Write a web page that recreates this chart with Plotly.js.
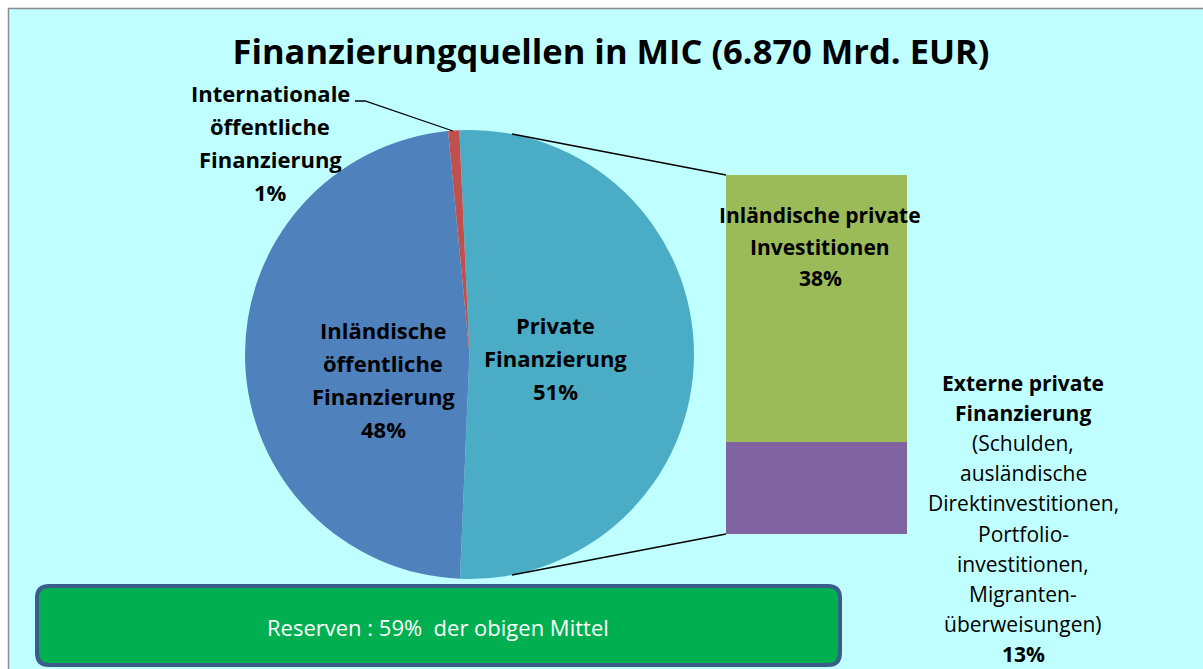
<!DOCTYPE html>
<html>
<head>
<meta charset="utf-8">
<script src="https://cdn.plot.ly/plotly-3.0.1.min.js"></script>
<style>html,body{margin:0;padding:0;background:#fff;}#chart{width:1203px;height:669px;}</style>
</head>
<body>
<div id="chart"></div>
<script>
// ---- data ----
const titleText = "Finanzierungquellen in MIC (6.870 Mrd. EUR)";
const pieLabels = ["Private Finanzierung", "Inländische öffentliche Finanzierung", "Internationale öffentliche Finanzierung"];
const pieValues = [51.4, 47.8, 0.8];
const pieLabelLines = [["Private", "Finanzierung"], ["Inländische", "öffentliche", "Finanzierung"], ["Internationale", "öffentliche", "Finanzierung"]];
const barLabels = ["Externe private Finanzierung", "Inländische private Investitionen"];
const barValues = [13, 38];
const barLabelLines = [["Externe private", "Finanzierung"], ["Inländische private", "Investitionen"]];
const barNoteLines = ["(Schulden,", "ausländische", "Direktinvestitionen,", "Portfolio-", "investitionen,", "Migranten-", "überweisungen)"];
const reserveText = "Reserven : 59%  der obigen Mittel";

// ---- geometry helpers ----
const W = 1203, H = 669;
const px = x => x / W;
const py = y => 1 - y / H;
const FONT = "Open Sans, Noto Sans, sans-serif";

const pieColors = ["#4bacc6", "#4f81bd", "#c0504d"];
const barColors = ["#8064a2", "#9bbb59"];

const traces = [
  {
    type: "pie",
    labels: pieLabels,
    values: pieValues,
    sort: false,
    direction: "clockwise",
    rotation: -2.6,
    textinfo: "none",
    hoverinfo: "none",
    showlegend: false,
    marker: {colors: pieColors, line: {width: 0}},
    domain: {x: [px(245), px(694)], y: [py(579), py(130)]}
  }
];
barLabels.forEach((lab, i) => {
  traces.push({
    type: "bar",
    x: [0],
    y: [barValues[i]],
    name: lab,
    width: 1,
    marker: {color: barColors[i], line: {width: 0}},
    hoverinfo: "none",
    showlegend: false,
    xaxis: "x", yaxis: "y"
  });
});

const pct = v => Math.round(v) + "%";
const annotations = [];
function block(lines, cx, y0, step, size, boldFlags) {
  lines.forEach((t, k) => {
    const b = boldFlags ? boldFlags[k] : true;
    annotations.push({
      xref: "paper", yref: "paper", x: px(cx), y: py(y0 + k * step),
      xanchor: "center", yanchor: "middle", showarrow: false,
      text: b ? "<b>" + t + "</b>" : t,
      font: {family: FONT, size: size, color: "#000"}
    });
  });
}
block(pieLabelLines[0].concat([pct(pieValues[0])]), 555, 325, 33, 22);
block(pieLabelLines[1].concat([pct(pieValues[1])]), 383, 330, 33, 22);
block(pieLabelLines[2].concat([pct(pieValues[2])]), 270, 93, 33, 22);
block(barLabelLines[1].concat([pct(barValues[1])]), 820, 215, 31.5, 21);
const extLines = barLabelLines[0].concat(barNoteLines, [pct(barValues[0])]);
const extBold = extLines.map((t, k) => k < 2 || k === extLines.length - 1);
block(extLines, 1023, 383, 30.1, 21, extBold);

annotations.push({
  xref: "paper", yref: "paper", x: px(438), y: py(626.5),
  xanchor: "center", yanchor: "middle", showarrow: false,
  text: reserveText, font: {family: FONT, size: 22, color: "#fff"}
});

// rounded box path
function roundRect(x0, y0, x1, y1, r) {
  const P = (x, y) => px(x) + "," + py(y);
  return "M" + P(x0 + r, y0) + " L" + P(x1 - r, y0) + " Q" + P(x1, y0) + " " + P(x1, y0 + r) +
    " L" + P(x1, y1 - r) + " Q" + P(x1, y1) + " " + P(x1 - r, y1) +
    " L" + P(x0 + r, y1) + " Q" + P(x0, y1) + " " + P(x0, y1 - r) +
    " L" + P(x0, y0 + r) + " Q" + P(x0, y0) + " " + P(x0 + r, y0) + " Z";
}

const shapes = [
  {type: "rect", xref: "paper", yref: "paper", layer: "below",
   x0: px(8.5), x1: px(1215), y0: py(8.5), y1: py(690),
   fillcolor: "#c0ffff", line: {color: "#8c8c8c", width: 1.5}},
  {type: "line", xref: "paper", yref: "paper", x0: px(512), y0: py(134), x1: px(726), y1: py(175),
   line: {color: "#000", width: 1.5}},
  {type: "line", xref: "paper", yref: "paper", x0: px(512), y0: py(575), x1: px(726), y1: py(534),
   line: {color: "#000", width: 1.5}},
  {type: "path", xref: "paper", yref: "paper",
   path: "M" + px(355) + "," + py(101) + " L" + px(365) + "," + py(101) + " L" + px(453) + "," + py(131),
   line: {color: "#000", width: 1.3}},
  {type: "path", xref: "paper", yref: "paper",
   path: roundRect(37, 586, 840, 665, 12),
   fillcolor: "#00b050", line: {color: "#385d8a", width: 4}}
];

const layout = {
  width: W, height: H,
  margin: {l: 0, r: 0, t: 0, b: 0},
  paper_bgcolor: "#ffffff",
  plot_bgcolor: "rgba(0,0,0,0)",
  title: {
    text: "<b>" + titleText + "</b>",
    x: px(611), y: py(52), xref: "paper", yref: "paper",
    xanchor: "center", yanchor: "middle",
    font: {family: FONT, size: 34.5, color: "#000"}
  },
  barmode: "stack",
  bargap: 0,
  xaxis: {domain: [px(726), px(907)], range: [-0.5, 0.5], visible: false, fixedrange: true},
  yaxis: {domain: [py(534), py(175)], range: [0, barValues.reduce((a, b) => a + b, 0)], visible: false, fixedrange: true},
  shapes: shapes,
  annotations: annotations,
  showlegend: false
};

Plotly.newPlot("chart", traces, layout, {displayModeBar: false, staticPlot: true});
</script>
</body>
</html>
